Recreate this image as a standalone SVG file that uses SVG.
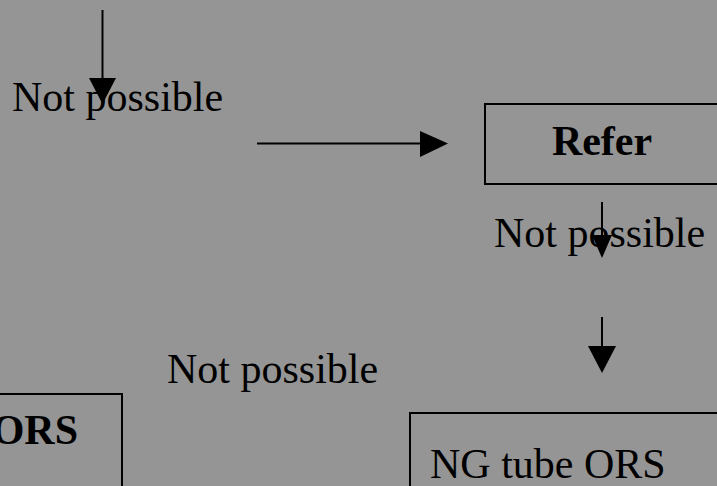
<svg xmlns="http://www.w3.org/2000/svg" width="717" height="486" viewBox="0 0 717 486">
<defs>
<style>
.t{font-family:"Liberation Serif","Times New Roman",serif;font-size:42px;fill:#000}
.b{font-weight:bold}
.box{fill:none;stroke:#000;stroke-width:2}
.ln{stroke:#000;stroke-width:2;fill:none}
.ah{fill:#000}
</style>
</defs>
<rect width="717" height="486" fill="#959595"/>
<g id="connectors">
<line class="ln" x1="102.5" y1="10" x2="102.5" y2="80"/>
<polygon class="ah" points="89,78 116,78 102.5,104"/>
<line class="ln" x1="257" y1="143.5" x2="422" y2="143.5"/>
<polygon class="ah" points="420,131 420,157 448,143.5"/>
<line class="ln" x1="602" y1="202" x2="602" y2="237"/>
<polygon class="ah" points="592,235 612,235 602,258"/>
<line class="ln" x1="602" y1="317" x2="602" y2="348"/>
<polygon class="ah" points="588,346 616,346 602,373"/>
</g>
<g id="label1"><text class="t" x="12" y="111">Not possible</text></g>
<g id="refer">
<rect class="box" x="485" y="104" width="240" height="80"/>
<text class="t b" x="602" y="155" text-anchor="middle">Refer</text>
</g>
<g id="label2"><text class="t" x="494" y="247">Not possible</text></g>
<g id="label3"><text class="t" x="167" y="383">Not possible</text></g>
<g id="ors">
<rect class="box" x="-20" y="394" width="142" height="120"/>
<text class="t b" x="78" y="444" text-anchor="end">ORS</text>
</g>
<g id="ngtube">
<rect class="box" x="410" y="413" width="330" height="100"/>
<text class="t" x="430" y="478">NG tube ORS</text>
</g>
</svg>
